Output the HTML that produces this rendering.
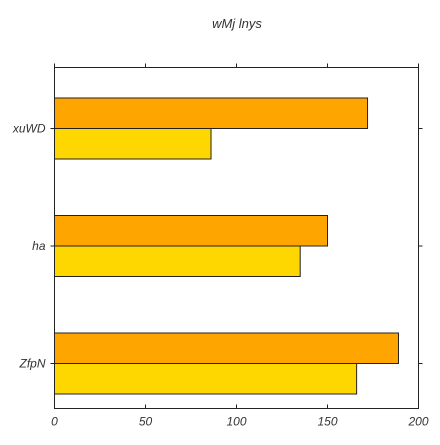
<!DOCTYPE html>
<html><head><meta charset="utf-8"><style>
body{margin:0;background:#fff;}
text{font-family:"Liberation Sans",sans-serif;font-style:italic;fill:#333;}
</style></head><body>
<svg width="440" height="440">
<text x="237" y="28" font-size="13" text-anchor="middle">wMj lnys</text>
<g id="bars"></g>
<rect x="54.5" y="67.5" width="364" height="341" fill="none" stroke="#222" stroke-width="1"/>
<g id="axes"></g>
</svg>
<script>
const categories=["xuWD","ha","ZfpN"];
const seriesA=[172,150,189];
const seriesB=[86,135,166];
const xTicks=[0,50,100,150,200];
const L=54.5,R=418.5,T=67.5,B=408.5;
const xs=v=>L+(v-0)/(200-0)*(R-L);
const yc=i=>128.5+117.5*i;
const ns="http://www.w3.org/2000/svg";
const bars=document.getElementById('bars'),axes=document.getElementById('axes');
function mk(tag,attrs,parent){const e=document.createElementNS(ns,tag);for(const k in attrs)e.setAttribute(k,attrs[k]);parent.appendChild(e);return e;}
const bh=30.5;
categories.forEach((c,i)=>{
  const a=mk('rect',{x:L,y:yc(i)-bh,width:xs(seriesA[i])-L,height:bh,fill:'#ffa500',stroke:'#222','stroke-width':1},bars);
  
  
  const b=mk('rect',{x:L,y:yc(i),width:xs(seriesB[i])-L,height:bh,fill:'#ffd700',stroke:'#222','stroke-width':1},bars);
  
  
  mk('line',{x1:L-4,x2:L,y1:yc(i),y2:yc(i),stroke:'#222'},axes);
  mk('line',{x1:R,x2:R+4,y1:yc(i),y2:yc(i),stroke:'#222'},axes);
  const t=mk('text',{x:L-9,y:yc(i)+4,'font-size':12,'text-anchor':'end'},axes);
  t.textContent=c;
  
  
});
xTicks.forEach(v=>{
  const x=xs(v);
  mk('line',{x1:x,x2:x,y1:B-4,y2:B,stroke:'#222'},axes);
  mk('line',{x1:x,x2:x,y1:T-4,y2:T,stroke:'#222'},axes);
  const t=mk('text',{x:x,y:B+17,'font-size':12,'text-anchor':'middle'},axes);
  t.textContent=v;
  
  
});
</script>
</body></html>
